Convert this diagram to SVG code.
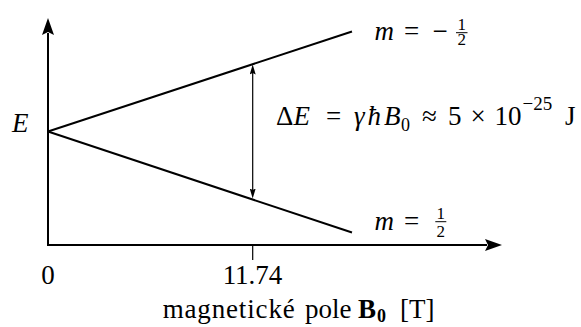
<svg xmlns="http://www.w3.org/2000/svg" width="581" height="327" viewBox="0 0 581 327">
<style>
text{font-family:"Liberation Serif","Times New Roman",serif;font-size:27px;fill:#000}
.i{font-style:italic}
.b{font-weight:bold}
.s{font-size:18px}
.sup{font-size:19px}
.f{font-size:17px}
.ax{stroke:#000;stroke-width:2;fill:none}
.thin{stroke:#000;stroke-width:1.2;fill:none}
.bar{stroke:#000;stroke-width:1;fill:none}
</style>
<defs>
<marker id="big" markerUnits="userSpaceOnUse" viewBox="0 0 17 12" markerWidth="17" markerHeight="12" refX="2" refY="6" orient="auto">
<path d="M0,0 L17,6 L0,12 L3,6 Z" fill="#000"/>
</marker>
<marker id="small" markerUnits="userSpaceOnUse" viewBox="0 0 10 6" markerWidth="10" markerHeight="6" refX="1.5" refY="3" orient="auto-start-reverse">
<path d="M0,0 L10,3 L0,6 L1.5,3 Z" fill="#000"/>
</marker>
</defs>
<rect width="581" height="327" fill="#fff"/>
<g id="connectors">
<line id="y-axis" class="ax" x1="48" y1="246" x2="48" y2="33" marker-end="url(#big)"/>
<line id="x-axis" class="ax" x1="47" y1="245" x2="487" y2="245" marker-end="url(#big)"/>
<line id="level-upper" class="ax" x1="48" y1="131.5" x2="352" y2="31.5"/>
<line id="level-lower" class="ax" x1="48" y1="131.5" x2="352" y2="232.5"/>
<line id="delta-arrow" class="thin" x1="252.7" y1="73" x2="252.7" y2="190" marker-start="url(#small)" marker-end="url(#small)"/>
<line id="tick" class="thin" x1="252.7" y1="245" x2="252.7" y2="260"/>
</g>
<g id="label-E">
<text class="i" x="12" y="131.7">E</text>
</g>
<g id="label-m-minus">
<text y="39.5"><tspan class="i" x="374.5">m</tspan><tspan x="404">=</tspan><tspan x="432.4">−</tspan></text>
<text class="f" text-anchor="middle"><tspan x="461.7" y="30">1</tspan><tspan x="461.7" y="45">2</tspan></text>
<line class="bar" x1="456" y1="32.7" x2="467.5" y2="32.7"/>
</g>
<g id="label-m-plus">
<text y="230"><tspan class="i" x="374.5">m</tspan><tspan x="404">=</tspan></text>
<text class="f" text-anchor="middle"><tspan x="440.8" y="219.3">1</tspan><tspan x="440.8" y="236.7">2</tspan></text>
<line class="bar" x1="435.3" y1="221.7" x2="446.3" y2="221.7"/>
</g>
<g id="label-deltaE">
<text y="125"><tspan x="276">Δ</tspan><tspan class="i" x="293.5">E</tspan><tspan x="326">=</tspan><tspan class="i" x="354">γ</tspan><tspan class="i" x="367.5">ħ</tspan><tspan class="i" x="384">B</tspan><tspan class="s" x="401" y="130.5">0</tspan><tspan x="422" y="125">≈</tspan><tspan x="448">5</tspan><tspan x="470.5">×</tspan><tspan x="494.5">10</tspan><tspan class="sup" x="522.5" y="110">−25</tspan><tspan x="565" y="125">J</tspan></text>
</g>
<g id="tick-labels">
<text x="48" y="284" text-anchor="middle">0</text>
<text x="252.5" y="284" text-anchor="middle">11.74</text>
</g>
<g id="axis-title">
<text y="318.3"><tspan x="162.7" textLength="132" lengthAdjust="spacing">magnetické</tspan><tspan x="305">pole</tspan><tspan class="b" x="358">B</tspan><tspan class="b s" x="377" y="321.7">0</tspan><tspan x="400" y="318.3">[T]</tspan></text>
</g>
</svg>
